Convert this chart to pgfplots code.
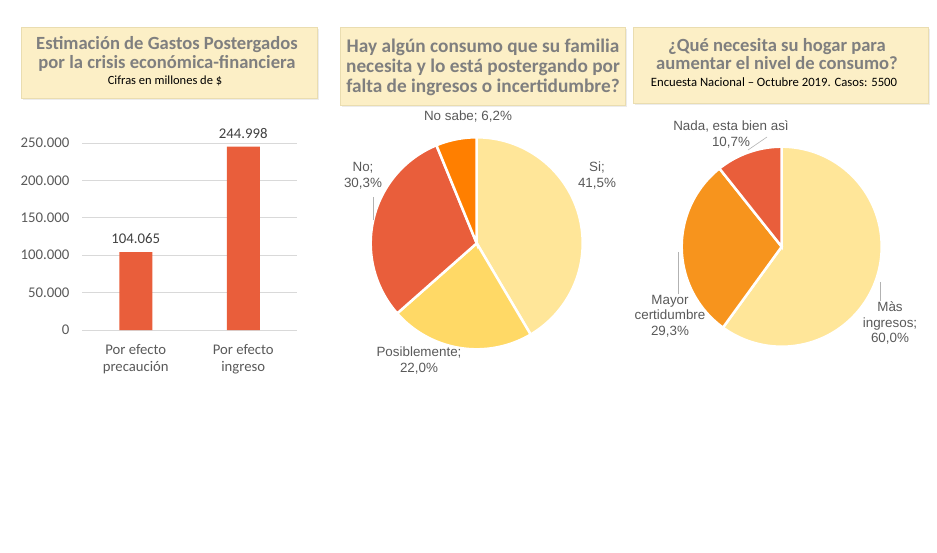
\documentclass[border=0pt]{standalone}
\usepackage{fontspec}
\setmainfont{Carlito}
\newfontfamily\lab{Liberation Sans}
\usepackage{pgfplots}
\pgfplotsset{compat=1.18}
\definecolor{barc}{HTML}{E95E3B}
\definecolor{ylight}{HTML}{FFE699}
\definecolor{ymid}{HTML}{FFD966}
\definecolor{redc}{HTML}{E95E3B}
\definecolor{orgc}{HTML}{FF7F00}
\definecolor{org2}{HTML}{F7941D}
\definecolor{boxf}{HTML}{FCEFC6}
\definecolor{boxd}{HTML}{EADDB0}
\definecolor{ttl}{HTML}{7F7F7F}
\definecolor{txt}{HTML}{595959}
\definecolor{gridc}{HTML}{D9D9D9}
\begin{document}
\begin{tikzpicture}
\path[use as bounding box] (0pt,0pt) rectangle (937pt,-553pt);
% ---------- title boxes ----------
\fill[gray!15] (23pt,-29pt) rectangle (319pt,-100pt);
\filldraw[fill=boxf,draw=boxd] (21pt,-27pt) rectangle (317pt,-98pt);
\fill[gray!15] (342pt,-29pt) rectangle (627pt,-107pt);
\filldraw[fill=boxf,draw=boxd] (340pt,-27pt) rectangle (625pt,-105pt);
\fill[gray!15] (635pt,-29pt) rectangle (930pt,-105pt);
\filldraw[fill=boxf,draw=boxd] (633pt,-27pt) rectangle (928pt,-103pt);
\node[font=\bfseries\fontsize{18.6}{18.5}\selectfont, text=ttl, align=center] at (167pt,-54pt)
  {Estimación de Gastos Postergados\\por la crisis económica-financiera};
\node[font=\fontsize{12.5}{13}\selectfont, text=black] at (165pt,-81pt) {Cifras en millones de \$};
\node[font=\bfseries\fontsize{19.3}{20}\selectfont, text=ttl, align=center] at (483pt,-67pt)
  {Hay algún consumo que su familia\\necesita y lo está postergando por\\falta de ingresos o incertidumbre?};
\node[font=\bfseries\fontsize{18.6}{18.5}\selectfont, text=ttl, align=center] at (777pt,-54pt)
  {¿Qué necesita su hogar para\\aumentar el nivel de consumo?};
\node[font=\fontsize{12.7}{13}\selectfont, text=black] at (774pt,-82pt) {Encuesta Nacional – Octubre 2019. Casos: 5500};
% ---------- bar chart ----------
\begin{axis}[
  at={(82pt,-330pt)}, anchor=south west,
  scale only axis, width=215pt, height=187pt,
  xmin=-0.5, xmax=1.5, ymin=0, ymax=250000,
  ybar, bar width=33pt,
  axis line style={draw=none}, tick style={draw=none},
  ymajorgrids, grid style={gridc, line width=0.8pt},
  ytick={0,50000,100000,150000,200000,250000},
  scaled y ticks=false,
  /pgf/number format/.cd, fixed, precision=0, 1000 sep={.}, assume math mode=true,
  /pgfplots/.cd,
  yticklabel style={font=\fontsize{14.8}{16}\selectfont, text=txt, xshift=-9pt},
  xtick={0,1},
  xticklabels={Por efecto\\precaución, Por efecto\\ingreso},
  xticklabel style={font=\fontsize{14.7}{17}\selectfont, text=txt, align=center, yshift=-7pt},
  nodes near coords,
  nodes near coords style={font=\fontsize{14.8}{16}\selectfont, text=black!75, yshift=5pt},
]
\addplot[fill=barc, draw=none] coordinates {(0,104065) (1,244998)};
\end{axis}
% ---------- middle pie ----------
\begin{axis}[
  at={(476.7pt,-243.3pt)}, anchor=center,
  scale only axis, width=212pt, height=212pt,
  xmin=-1, xmax=1, ymin=-1, ymax=1, hide axis, clip=false]
% Si 41.5, Posiblemente 22.0, No 30.3, No sabe 6.2 (degrees = 3.6*percent, clockwise from top)
\addplot[fill=ylight, draw=white, line width=2.5pt, domain=0:149.4, samples=90, variable=\t] ({sin(\t)},{cos(\t)}) -- (axis cs:0,0) -- cycle;
\addplot[fill=ymid, draw=white, line width=2.5pt, domain=149.4:228.6, samples=60, variable=\t] ({sin(\t)},{cos(\t)}) -- (axis cs:0,0) -- cycle;
\addplot[fill=redc, draw=white, line width=2.5pt, domain=228.6:337.68, samples=70, variable=\t] ({sin(\t)},{cos(\t)}) -- (axis cs:0,0) -- cycle;
\addplot[fill=orgc, draw=white, line width=2.5pt, domain=337.68:360, samples=20, variable=\t] ({sin(\t)},{cos(\t)}) -- (axis cs:0,0) -- cycle;
\end{axis}
% ---------- right pie ----------
\begin{axis}[
  at={(781.7pt,-246.7pt)}, anchor=center,
  scale only axis, width=200pt, height=200pt,
  xmin=-1, xmax=1, ymin=-1, ymax=1, hide axis, clip=false]
% Mas ingresos 60.0, Mayor certidumbre 29.3, Nada 10.7
\addplot[fill=ylight, draw=white, line width=2.5pt, domain=0:216, samples=120, variable=\t] ({sin(\t)},{cos(\t)}) -- (axis cs:0,0) -- cycle;
\addplot[fill=org2, draw=white, line width=2.5pt, domain=216:321.48, samples=70, variable=\t] ({sin(\t)},{cos(\t)}) -- (axis cs:0,0) -- cycle;
\addplot[fill=redc, draw=white, line width=2.5pt, domain=321.48:360, samples=30, variable=\t] ({sin(\t)},{cos(\t)}) -- (axis cs:0,0) -- cycle;
\end{axis}
% ---------- pie labels ----------
\begin{scope}[every node/.style={font=\lab\fontsize{13.4}{15.5}\selectfont, text=txt, align=center, inner sep=0pt}]
\node at (468pt,-117pt) {No sabe; 6,2\%};
\node at (597pt,-175.5pt) {Si;\\41,5\%};
\node at (363pt,-175.5pt) {No;\\30,3\%};
\node at (419pt,-360.5pt) {Posiblemente;\\22,0\%};
\node[font=\lab\fontsize{13.4}{16.5}\selectfont] at (731pt,-134.5pt) {Nada, esta bien asì\\10,7\%};
\node at (670pt,-316pt) {Mayor\\certidumbre\\29,3\%};
\node at (890pt,-323pt) {Màs\\ingresos;\\60,0\%};
\end{scope}
\draw[gray!60, line width=0.6pt] (373pt,-197pt) -- (373pt,-220pt);
\draw[gray!60, line width=0.6pt] (748pt,-150pt) -- (767pt,-137pt);
\draw[gray!60, line width=0.6pt] (678pt,-252pt) -- (678pt,-294pt);
\draw[gray!60, line width=0.6pt] (880pt,-282pt) -- (880pt,-301pt);
\end{tikzpicture}
\end{document}
